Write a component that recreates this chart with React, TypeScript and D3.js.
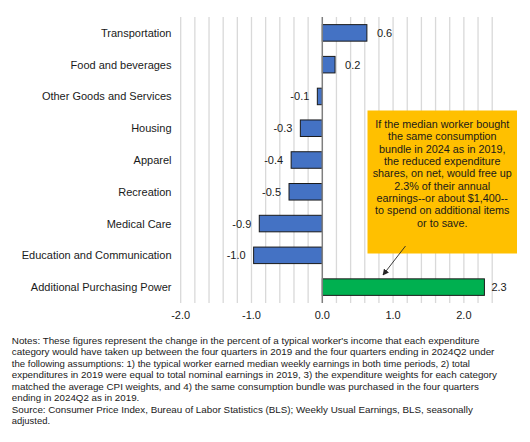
import React from "react";
import * as d3 from "d3";

const categories = [
  "Transportation",
  "Food and beverages",
  "Other Goods and Services",
  "Housing",
  "Apparel",
  "Recreation",
  "Medical Care",
  "Education and Communication",
  "Additional Purchasing Power",
];
const values = [0.63, 0.18, -0.07, -0.31, -0.44, -0.47, -0.89, -0.97, 2.29];
const tickValues = [-2, -1, 0, 1, 2];
const annotationLines = [
  "If the median worker bought",
  "the same consumption",
  "bundle  in 2024 as in 2019,",
  "the reduced expenditure",
  "shares, on net, would free up",
  "2.3% of their annual",
  "earnings--or about $1,400--",
  "to spend on additional items",
  "or to save.",
];
const noteLines = [
  "Notes: These figures represent the change in the percent of a typical worker's income that each expenditure",
  "category would have taken up between the four quarters in 2019 and the four quarters ending in 2024Q2 under",
  "the following assumptions: 1) the typical worker earned median weekly earnings in both time periods, 2) total",
  "expenditures in 2019 were equal to total nominal earnings in 2019, 3) the expenditure weights for each category",
  "matched the average CPI weights, and 4) the same consumption bundle was purchased in the four quarters",
  "ending in 2024Q2 as in 2019.",
  "Source: Consumer Price Index, Bureau of Labor Statistics (BLS); Weekly Usual Earnings, BLS, seasonally",
  "adjusted.",
];
const noteLineEnds = [479.5, 494.4, 470, 497, 478.9, 139.3, 472.8, 50];

const W = 530;
const H = 442;
const FONT = "'Liberation Sans', Arial, sans-serif";

export default function App() {
  const x = d3.scaleLinear().domain([-2, 2.4]).range([180.7, 492.2]);
  const y = d3
    .scaleBand<string>()
    .domain(categories)
    .range([17, 303])
    .paddingInner(0.48)
    .paddingOuter(0.24);
  const grid = d3.range(-10, 13).map((i) => +(i * 0.2).toFixed(1));
  const fmt = (v: number) => {
    const s = Math.abs(v).toFixed(1);
    return (v < 0 && s !== "0.0" ? "-" : "") + s;
  };
  const textColor = "#1a1a1a";
  const boxX = 367.5;
  const boxY = 110.5;
  const boxW = 149.5;
  const boxH = 143;
  const boxCx = boxX + boxW / 2;

  return (
    <svg
      width={W}
      height={H}
      style={{ position: "absolute", left: 0, top: 0, background: "#fff" }}
      fontFamily={FONT}
    >
      <defs>
        <marker
          id="arrow"
          viewBox="0 0 10 10"
          refX="9"
          refY="5"
          markerWidth="7"
          markerHeight="7"
          orient="auto"
        >
          <path d="M0,0 L10,5 L0,10 z" fill="#262626" />
        </marker>
      </defs>
      <rect x={0} y={0} width={W} height={H} fill="#fff" />
      {grid
        .filter((g) => g !== 0)
        .map((g) => (
          <line
            key={g}
            x1={x(g)}
            x2={x(g)}
            y1={17}
            y2={303}
            stroke="#d9d9d9"
            strokeWidth={1.3}
          />
        ))}
      {categories.map((c, i) => {
        const v = values[i];
        const x0 = x(Math.min(0, v));
        const x1 = x(Math.max(0, v));
        const yy = y(c)!;
        const last = i === categories.length - 1;
        return (
          <g key={c}>
            <rect
              x={x0}
              y={yy}
              width={x1 - x0}
              height={y.bandwidth()}
              fill={last ? "#00b050" : "#4472c4"}
              stroke="#1a1a1a"
              strokeWidth={1}
            />
            <text
              x={171.5}
              y={yy + y.bandwidth() / 2 + 4}
              textAnchor="end"
              fontSize={11}
              fill={textColor}
            >
              {c}
            </text>
            <text
              x={v >= 0 ? x1 + (last ? 7 : 10) : x0 - 8}
              y={yy + y.bandwidth() / 2 + 4}
              textAnchor={v >= 0 ? "start" : "end"}
              fontSize={11}
              fill={textColor}
            >
              {fmt(v)}
            </text>
          </g>
        );
      })}
      <line x1={x(0)} x2={x(0)} y1={17} y2={303} stroke="#7f7f7f" strokeWidth={1.5} />
      {tickValues.map((t) => (
        <text
          key={t}
          x={x(t)}
          y={319}
          textAnchor="middle"
          fontSize={11}
          fill={textColor}
        >
          {fmt(t)}
        </text>
      ))}
      <rect x={boxX} y={boxY} width={boxW} height={boxH} fill="#ffc000" />
      {annotationLines.map((l, i) => (
        <text
          key={i}
          x={boxCx}
          y={128 + i * 12.35}
          textAnchor="middle"
          fontSize={10.8}
          fill={textColor}
        >
          {l}
        </text>
      ))}
      <line
        x1={405.5}
        y1={246}
        x2={383}
        y2={275}
        stroke="#262626"
        strokeWidth={0.9}
        markerEnd="url(#arrow)"
      />
      {noteLines.map((l, i) => (
        <text
          key={i}
          x={11.8}
          y={343.8 + i * 11.45}
          fontSize={9.8}
          fill={textColor}
          textLength={noteLineEnds[i] - 11.8}
          lengthAdjust="spacingAndGlyphs"
        >
          {l}
        </text>
      ))}
    </svg>
  );
}
